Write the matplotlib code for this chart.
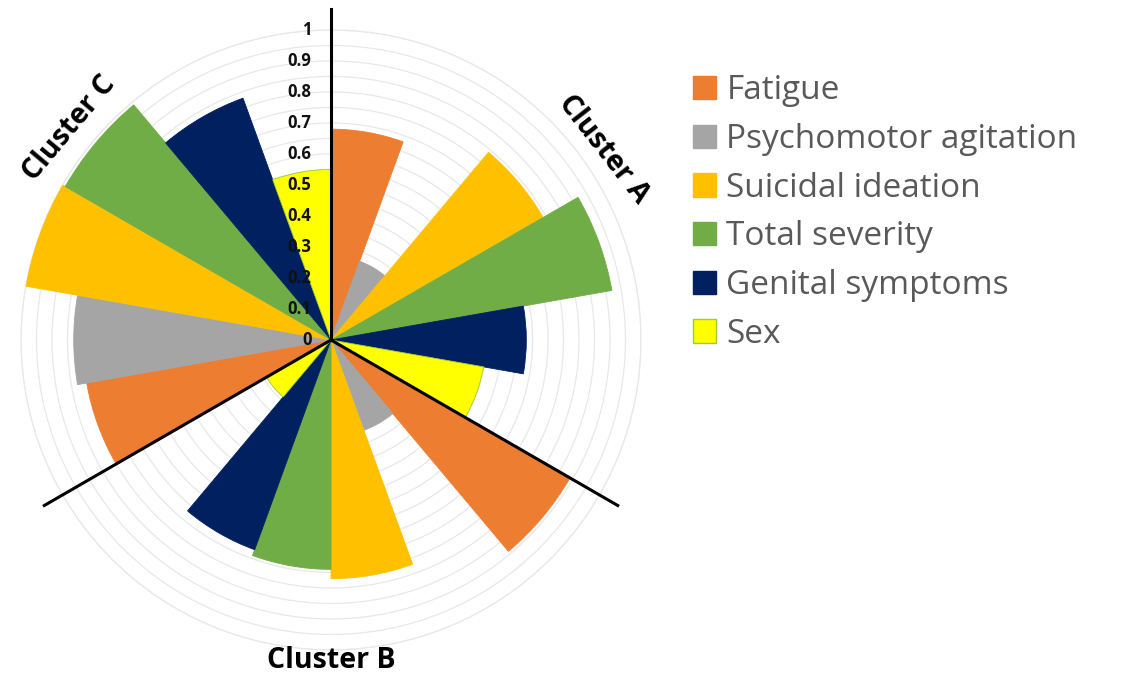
import numpy as np
import matplotlib.pyplot as plt
from matplotlib.patches import Patch

# data
clusters = ['Cluster A', 'Cluster B', 'Cluster C']
variables = ['Fatigue', 'Psychomotor agitation', 'Suicidal ideation',
             'Total severity', 'Genital symptoms', 'Sex']
colors = ['#ED7D31', '#A5A5A5', '#FFC000', '#70AD47', '#002060', '#FFFF00']

cluster_a = [0.68, 0.27, 0.79, 0.92, 0.63, 0.50]
cluster_b = [0.89, 0.31, 0.77, 0.74, 0.72, 0.24]
cluster_c = [0.80, 0.83, 1.00, 0.99, 0.83, 0.55]

r_ticks = [0, 0.1, 0.2, 0.3, 0.4, 0.5, 0.6, 0.7, 0.8, 0.9, 1]
r_tick_labels = ['0', '0.1', '0.2', '0.3', '0.4', '0.5', '0.6', '0.7', '0.8', '0.9', '1']

plt.rcParams['font.family'] = ['Open Sans', 'DejaVu Sans']

fig = plt.figure(figsize=(11.31, 6.76), dpi=100)
ax = fig.add_axes([0.01857, 0.0385, 0.5482, 0.9172], projection='polar')
ax.set_theta_zero_location('N')
ax.set_theta_direction(-1)
ax.set_ylim(0, 1)

values = cluster_a + cluster_b + cluster_c
n = len(values)
width = 2 * np.pi / n
theta = np.arange(n) * width + width / 2
bar_colors = colors * len(clusters)
edges = ['#9ACD32' if c == '#FFFF00' else c for c in bar_colors]
ax.bar(theta, values, width=width, color=bar_colors, edgecolor=edges,
       linewidth=0.6, zorder=3)

# grid
ax.set_yticks(np.arange(0.05, 1.001, 0.05))
ax.set_yticklabels([])
ax.set_xticks([])
ax.yaxis.grid(True, color='#E8E8E8', linewidth=0.9)
ax.xaxis.grid(False)
ax.spines['polar'].set_color('#E8E8E8')
ax.spines['polar'].set_linewidth(0.9)

# radial labels along the vertical line
for v, lab in zip(r_ticks, r_tick_labels):
    ax.annotate(lab, xy=(0, v), xytext=(-14, 0), textcoords='offset points',
                ha='right', va='center', fontsize=12, fontweight='bold',
                color='#111111', zorder=5)

# cluster separators
for k in range(len(clusters)):
    ang = k * 2 * np.pi / len(clusters)
    ax.plot([ang, ang], [0, 1.068], color='black', linewidth=2.2,
            clip_on=False, zorder=4)

# cluster labels
ax.text(np.deg2rad(55), 1.075, 'Cluster A', rotation=-52, ha='center', va='center',
        fontsize=20.5, fontweight='bold')
ax.text(np.deg2rad(180), 1.035, 'Cluster B', rotation=0, ha='center', va='center',
        fontsize=20.5, fontweight='bold')
ax.text(np.deg2rad(309), 1.085, 'Cluster C', rotation=50, ha='center', va='center',
        fontsize=20.5, fontweight='bold')

handles = [Patch(facecolor=c, edgecolor=('#9ACD32' if c == '#FFFF00' else c))
           for c in colors]
fig.legend(handles, variables, loc='upper left', bbox_to_anchor=(0.601, 0.91),
           frameon=False, fontsize=24, labelcolor='#595959',
           handlelength=0.7, handleheight=0.7, handletextpad=0.3,
           labelspacing=0.47, borderaxespad=0)

fig.savefig('out.png', dpi=100)
